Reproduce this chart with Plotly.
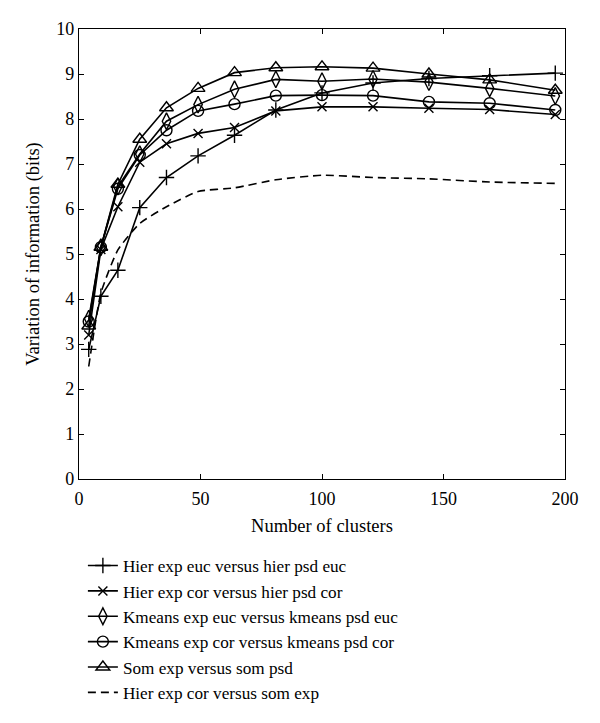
import plotly.graph_objects as go

clusters = [4, 9, 16, 25, 36, 49, 64, 81, 100, 121, 144, 169, 196]

hier_euc = [2.88, 4.06, 4.64, 6.03, 6.70, 7.18, 7.64, 8.20, 8.58, 8.80, 8.90, 8.96, 9.02]
hier_cor = [3.20, 5.10, 6.05, 7.04, 7.45, 7.68, 7.81, 8.18, 8.27, 8.27, 8.24, 8.21, 8.10]
kmeans_euc = [3.56, 5.15, 6.50, 7.22, 7.95, 8.32, 8.66, 8.88, 8.84, 8.89, 8.82, 8.68, 8.51]
kmeans_cor = [3.50, 5.15, 6.45, 7.20, 7.75, 8.18, 8.33, 8.52, 8.53, 8.52, 8.38, 8.35, 8.20]
som = [3.40, 5.15, 6.55, 7.55, 8.25, 8.68, 9.03, 9.14, 9.16, 9.13, 9.00, 8.87, 8.64]
hier_cor_som = [2.50, 4.13, 5.09, 5.68, 6.05, 6.39, 6.47, 6.65, 6.75, 6.70, 6.67, 6.60, 6.57]

names = [
    "Hier exp euc versus hier psd euc",
    "Hier exp cor versus hier psd cor",
    "Kmeans exp euc versus kmeans psd euc",
    "Kmeans exp cor versus kmeans psd cor",
    "Som exp versus som psd",
    "Hier exp cor versus som exp",
]
symbols = ["cross-thin-open", "x-thin-open", "diamond-tall-open", "circle-open", "triangle-up-open", None]
sizes = [11, 9, 12, 11, 12, 0]
series = [hier_euc, hier_cor, kmeans_euc, kmeans_cor, som, hier_cor_som]

FONT = "Liberation Serif"
fig = go.Figure()
for i, (nm, ys) in enumerate(zip(names, series)):
    if symbols[i] is None:
        fig.add_trace(go.Scatter(
            x=clusters, y=ys, name=nm, mode="lines",
            line=dict(color="black", width=1.6, dash="8px,5px", shape="spline", smoothing=0.5),
        ))
    else:
        fig.add_trace(go.Scatter(
            x=clusters, y=ys, name=nm, mode="lines+markers",
            line=dict(color="black", width=1.6),
            marker=dict(symbol=symbols[i], size=sizes[i], color="black",
                        line=dict(color="black", width=1.4)),
        ))

fig.update_layout(
    width=592, height=715,
    margin=dict(l=71, r=35, t=21, b=244),
    paper_bgcolor="white", plot_bgcolor="white",
    font=dict(family=FONT, size=18, color="black"),
    showlegend=True,
    legend=dict(
        x=0.008, y=-0.153, xanchor="left", yanchor="top",
        font=dict(family=FONT, size=17.2, color="black"),
        bgcolor="rgba(0,0,0,0)",
    ),
    xaxis=dict(
        range=[0, 200], tickvals=[0, 50, 100, 150, 200],
        ticks="inside", ticklen=5, tickcolor="black", tickwidth=1,
        showline=True, linecolor="black", linewidth=1.3, mirror="ticks",
        showgrid=False, zeroline=False, automargin=False, ticklabelstandoff=3,
        title=dict(text="Number of clusters", font=dict(family=FONT, size=18.5), standoff=11),
        tickfont=dict(family=FONT, size=18),
    ),
    yaxis=dict(
        range=[0, 10], tickvals=list(range(0, 11)),
        ticks="inside", ticklen=5, tickcolor="black", tickwidth=1,
        showline=True, linecolor="black", linewidth=1.3, mirror="ticks",
        showgrid=False, zeroline=False, automargin=False,
        title=dict(text="Variation of information (bits)", font=dict(family=FONT, size=18.5), standoff=11),
        tickfont=dict(family=FONT, size=18),
    ),
)

fig.write_html("out.html")
